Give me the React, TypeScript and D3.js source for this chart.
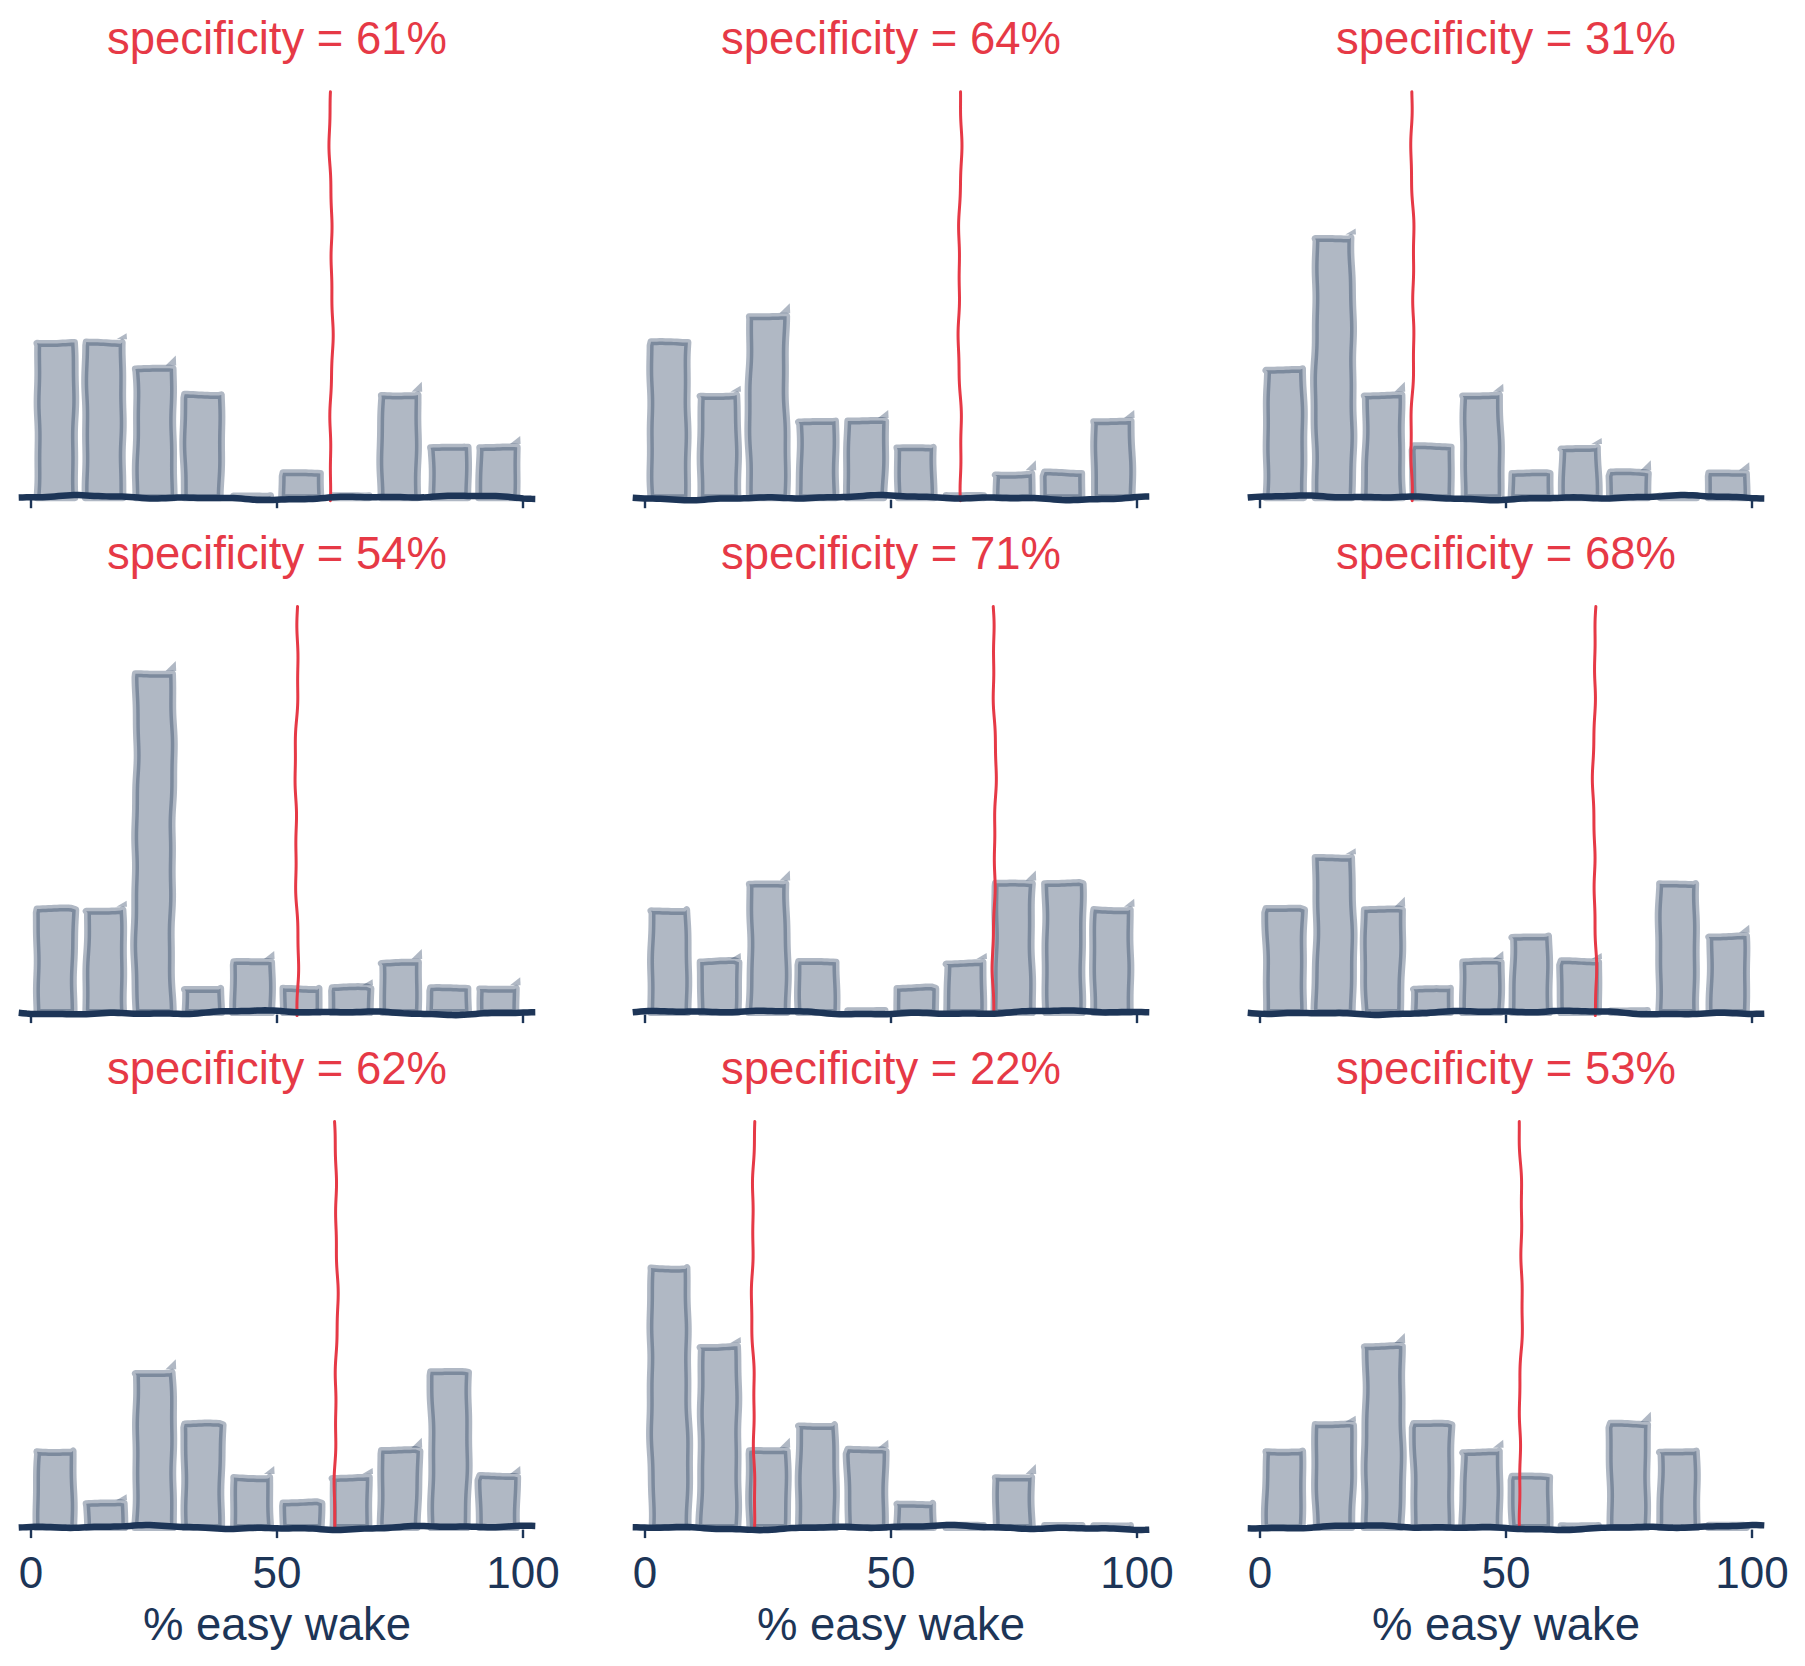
import React from 'react';
import * as d3 from 'd3';

// histogram bins (left edges), each 10 wide
const binStarts = [0, 10, 20, 30, 40, 50, 60, 70, 80, 90];
const binWidth = 10;

// specificity per panel (also where the red line sits)
const specificity = [61, 64, 31, 54, 71, 68, 62, 22, 53];

// counts per bin, one array per panel (row by row)
const countsA = [6, 6, 5, 4, 0, 1, 0, 4, 2, 2];
const countsB = [6, 4, 7, 3, 3, 2, 0, 1, 1, 3];
const countsC = [5, 10, 4, 2, 4, 1, 2, 1, 0, 1];
const countsD = [4, 4, 13, 1, 2, 1, 1, 2, 1, 1];
const countsE = [4, 2, 5, 2, 0, 1, 2, 5, 5, 4];
const countsF = [4, 6, 4, 1, 2, 3, 2, 0, 5, 3];
const countsG = [3, 1, 6, 4, 2, 1, 2, 3, 6, 2];
const countsH = [10, 7, 3, 4, 3, 1, 0, 2, 0, 0];
const countsI = [3, 4, 7, 4, 3, 2, 0, 4, 3, 0];
const panelCounts = [countsA, countsB, countsC, countsD, countsE, countsF, countsG, countsH, countsI];

const xTicks = [0, 50, 100];
const xLabel = '% easy wake';

const W = 1805;
const H = 1666;
const NAVY = '#1d3557';
const RED = '#e63946';
const FONT = '"Liberation Sans", Arial, Helvetica, sans-serif';

const colLeft = [31, 645, 1260]; // pixel of x = 0 in each column
const pxPerUnit = 4.92;
const rowBase = [497.7, 1012.6, 1527.6]; // pixel of y = 0 in each row
const yMax = 15.5;
const yPx = 406;

type Pt = [number, number];

// hand-drawn wobble, deterministic
function wobble(t: number, seed: number) {
  return (
    Math.sin(t / 21 + seed * 1.3) * 0.45 +
    Math.sin(t / 8.5 + seed * 2.7) * 0.2 +
    Math.sin(t / 57 + seed * 0.9) * 0.75
  );
}

function sketch(pts: Pt[], amp: number, seed: number, step = 3): Pt[] {
  const out: Pt[] = [];
  let acc = 0;
  for (let i = 0; i < pts.length - 1; i++) {
    const [x0, y0] = pts[i];
    const [x1, y1] = pts[i + 1];
    const len = Math.hypot(x1 - x0, y1 - y0);
    if (len < 0.01) continue;
    const n = Math.max(1, Math.ceil(len / step));
    const nx = -(y1 - y0) / len;
    const ny = (x1 - x0) / len;
    for (let k = 0; k < n; k++) {
      const f = k / n;
      const o = amp * wobble(acc + f * len, seed);
      out.push([x0 + (x1 - x0) * f + nx * o, y0 + (y1 - y0) * f + ny * o]);
    }
    acc += len;
    if (i === pts.length - 2) {
      const o = amp * wobble(acc, seed);
      out.push([x1 + nx * o, y1 + ny * o]);
    }
  }
  return out;
}

const line = d3.line<Pt>().x(d => d[0]).y(d => d[1]);

const Panel: React.FC<{ idx: number }> = ({ idx }) => {
  const r = Math.floor(idx / 3);
  const c = idx % 3;
  const counts = panelCounts[idx];
  const x = d3.scaleLinear().domain([0, 100]).range([colLeft[c], colLeft[c] + 100 * pxPerUnit]);
  const y = d3.scaleLinear().domain([0, yMax]).range([rowBase[r], rowBase[r] - yPx]);
  const base = y(0);
  const seed0 = idx * 17.3;

  const bars = binStarts.map((b, i) => {
    const xl = x(b) + 6;
    const xr = x(b + binWidth) - 6;
    const empty = counts[i] === 0;
    const yt = empty ? base - 2 : y(counts[i]) + 2;
    const s = seed0 + i * 3.7;
    const pts = sketch(
      [
        [xl, base],
        [xl, yt],
        [xr, yt],
        [xr, base],
      ],
      empty ? 0.4 : 1.3,
      s
    );
    const k = (i * 7 + idx * 5) % 5;
    const spike = k < 2 ? 0 : 2 + k * 2;
    return (
      <g key={i}>
        <path
          d={line(pts) + 'Z'}
          fill="rgba(29,53,87,0.35)"
          stroke="rgba(29,53,87,0.35)"
          strokeWidth={7}
          strokeLinejoin="round"
        />
        {!empty && spike > 0 && (
          <path
            d={`M${xr - 7},${yt - 3.2}L${xr + 3.6},${yt - 3.2}L${xr + 3.2},${yt - 3.2 - spike}Z`}
            fill="rgba(29,53,87,0.35)"
          />
        )}
      </g>
    );
  });

  const spec = specificity[idx];
  const redPts = sketch(
    [
      [x(spec), base + 3],
      [x(spec), y(yMax)],
    ],
    1.6,
    seed0 + 5
  );

  const axisPts = sketch(
    [
      [x(-2.5), base],
      [x(102.5), base],
    ],
    1.9,
    seed0 + 11,
    4
  );

  return (
    <g>
      {bars}
      <path d={line(redPts) ?? ''} fill="none" stroke={RED} strokeWidth={3} strokeLinecap="round" />
      <path d={line(axisPts) ?? ''} fill="none" stroke={NAVY} strokeWidth={6.5} />
      {xTicks.map(t => (
        <line key={t} x1={x(t)} x2={x(t)} y1={base + 2} y2={base + 10.5} stroke={NAVY} strokeWidth={2.4} />
      ))}
      <text
        x={x(50)}
        y={base - 444}
        textAnchor="middle"
        fill={RED}
        fontFamily={FONT}
        fontSize={45.5}
      >
        {`specificity = ${spec}%`}
      </text>
      {r === 2 &&
        xTicks.map(t => (
          <text key={t} x={x(t)} y={base + 60} textAnchor="middle" fill={NAVY} fontFamily={FONT} fontSize={44}>
            {t}
          </text>
        ))}
      {r === 2 && (
        <text x={x(50)} y={base + 112} textAnchor="middle" fill={NAVY} fontFamily={FONT} fontSize={45.5}>
          {xLabel}
        </text>
      )}
    </g>
  );
};

export default function App() {
  return (
    <svg
      width={W}
      height={H}
      viewBox={`0 0 ${W} ${H}`}
      style={{ position: 'absolute', left: 0, top: 0, background: '#fff' }}
    >
      <rect width={W} height={H} fill="#fff" />
      {panelCounts.map((_, i) => (
        <Panel key={i} idx={i} />
      ))}
    </svg>
  );
}
